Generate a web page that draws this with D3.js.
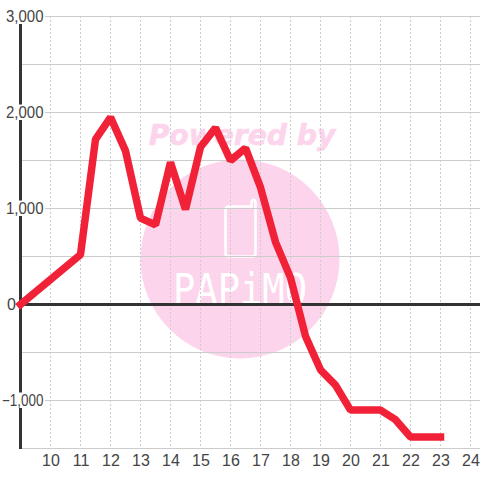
<!DOCTYPE html>
<html><head><meta charset="utf-8"><script src="https://cdn.jsdelivr.net/npm/d3@7"></script>
<style>html,body{margin:0;background:#fff}svg{display:block}text{font-family:"Liberation Sans",sans-serif}</style></head>
<body><svg id="c" width="480" height="480"></svg>
<script>
const hours=[9,11,11.5,12,12.5,13,13.5,14,14.5,15,15.5,16,16.5,17,17.5,18,18.5,19,19.5,20,20.5,21,21.5,22,22.5,23];
const values=[0,520,1720,1950,1600,900,830,1480,990,1640,1840,1500,1630,1220,650,280,-330,-680,-840,-1100,-1100,-1100,-1200,-1380,-1380,-1380];
const xTicks=[10,11,12,13,14,15,16,17,18,19,20,21,22,23,24];
const yGrid=[3000,2500,2000,1500,1000,500,0,-500,-1000,-1500];
const yLabels=[3000,2000,1000,0,-1000];
const watermarkTop="Powered by";
const watermarkBottom="PAPiMO";
const svg=d3.select("#c");
const x=d3.scaleLinear().domain([9,24]).range([20.5,470.5]);
const y=d3.scaleLinear().domain([3000,-1500]).range([16.5,448.5]);
// watermark
const wm=svg.append("g");
wm.append("circle").attr("cx",240).attr("cy",259).attr("r",99.5).attr("fill","#fcd5ec");
wm.append("text").attr("x",242).attr("y",144.5).attr("text-anchor","middle")
 .style("font-family","DejaVu Sans").style("font-weight","bold").style("font-style","italic").style("font-size","28.2px")
 .attr("fill","#fcd5ec").attr("stroke","#fcd5ec").attr("stroke-width",0.6).text(watermarkTop);
wm.append("path").attr("d","M229 206.500H251.500V203Q251.500 200 253.500 200Q255.500 200 255.500 203V253.500Q255.500 256.500 252.500 256.500H228.500Q225.500 256.500 225.500 253.500V209.500Q225.500 206.500 229 206.500Z")
 .attr("fill","none").attr("stroke","#fff").attr("stroke-width",2.5);
wm.append("text").attr("x",240).attr("y",304).attr("text-anchor","middle").attr("textLength",134).attr("lengthAdjust","spacingAndGlyphs")
 .style("font-family","DejaVu Sans Mono").style("font-size","42px").attr("fill","#fff").text(watermarkBottom);
// grid
svg.append("g").selectAll("line").data(xTicks).join("line")
 .attr("x1",d=>x(d)).attr("x2",d=>x(d)).attr("y1",16).attr("y2",448)
 .attr("stroke","#ccc").attr("stroke-dasharray","2 2");
svg.append("g").selectAll("line").data(yGrid).join("line")
 .attr("x1",20).attr("x2",480).attr("y1",d=>y(d)).attr("y2",d=>y(d))
 .attr("stroke","#ccc");
// zero line + axis
svg.append("line").attr("x1",20).attr("x2",480).attr("y1",y(0)).attr("y2",y(0)).attr("stroke","#333").attr("stroke-width",3);
svg.append("line").attr("x1",20.5).attr("x2",20.5).attr("y1",16).attr("y2",449).attr("stroke","#333").attr("stroke-width",3);
// label backing
svg.append("g").selectAll("rect").data(yLabels.filter(d=>d!==0)).join("rect")
 .attr("x",0).attr("width",45).attr("y",d=>y(d)-8).attr("height",15.5).attr("fill","#fff");
// series
svg.append("path").datum(d3.range(hours.length))
 .attr("d",d3.line().x(i=>x(hours[i])).y(i=>y(values[i])))
 .attr("fill","none").attr("stroke","#f12238").attr("stroke-width",7.5).attr("stroke-linejoin","bevel").attr("stroke-linecap","square");
// labels
const fmt=d3.format(",");
svg.append("g").selectAll("text").data(yLabels).join("text")
 .attr("x",d=>d===0?16:43.5).attr("y",d=>y(d)+5.5).attr("text-anchor","end")
 .attr("textLength",d=>d===0?null:(d<0?41.5:37.5)).attr("lengthAdjust","spacingAndGlyphs")
 .attr("fill","#444").style("font-size","16px").text(d=>fmt(d));
svg.append("g").selectAll("text").data(xTicks).join("text")
 .attr("x",d=>x(d)+0.5).attr("y",466).attr("text-anchor","middle").attr("fill","#444").style("font-size","16px").text(d=>d);
</script></body></html>
